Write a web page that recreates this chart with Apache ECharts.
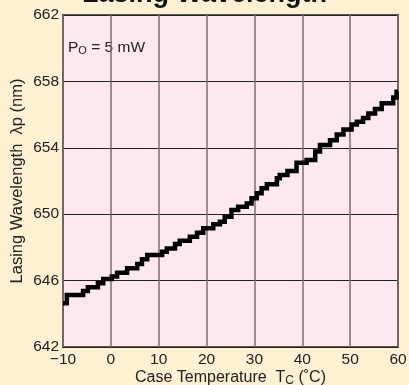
<!DOCTYPE html>
<html><head><meta charset="utf-8">
<script src="https://cdn.jsdelivr.net/npm/echarts@6/dist/echarts.min.js"></script>
<style>html,body{margin:0;padding:0;background:#fdf0d3;}#c{width:409px;height:385px;}</style>
</head><body><div id="c"></div>
<script>
// Step start temperatures (°C) and wavelengths (nm)
var temps = [-10, -9.2, -5.8, -4.8, -2.7, -1.6, 0.2, 1.3, 3.4, 5.5, 6.5, 7.6, 10.7, 11.7, 13.4, 14.4, 16.5, 18.0, 19.3, 21.4, 22.8, 23.8, 25.2, 26.6, 28.4, 29.4, 30.5, 31.5, 32.6, 34.7, 35.3, 36.9, 38.8, 40.9, 42.7, 43.7, 45.8, 47.2, 48.6, 50.3, 51.4, 52.7, 53.8, 55.2, 56.6, 59.0, 59.7, 60];
var waves = [644.63, 645.13, 645.37, 645.6, 645.84, 646.1, 646.24, 646.48, 646.74, 647.0, 647.28, 647.54, 647.74, 647.94, 648.2, 648.4, 648.64, 648.88, 649.15, 649.4, 649.55, 649.85, 650.25, 650.45, 650.65, 650.96, 651.26, 651.56, 651.8, 652.16, 652.36, 652.6, 653.1, 653.27, 653.77, 654.17, 654.45, 654.8, 655.1, 655.4, 655.57, 655.8, 656.06, 656.33, 656.68, 657.03, 657.38, 657.38];
var xTicks = [-10, 0, 10, 20, 30, 40, 50, 60];
var yTicks = [642, 646, 650, 654, 658, 662];

var chart = echarts.init(document.getElementById('c'));
var data = temps.map(function (t, i) { return [t, waves[i]]; });
chart.setOption({
  backgroundColor: '#fdf0d3',
  animation: false,
  textStyle: { fontFamily: 'Liberation Sans, Arial, sans-serif' },
  title: {
    text: 'Lasing Wavelength', left: 'center', top: -24,
    textStyle: { fontSize: 27, fontWeight: 'bold', color: '#111', fontFamily: 'Liberation Sans' }
  },
  grid: { left: 63, right: 11, top: 15, bottom: 38, outerBoundsMode: 'none', containLabel: false, show: true, backgroundColor: '#fde8f0', borderColor: '#555', borderWidth: 2 },
  xAxis: {
    type: 'value', min: -10, max: 60, interval: 10,
    axisLine: { show: false }, axisTick: { show: false },
    splitLine: { show: true, lineStyle: { color: '#7a6e72', width: 1.5 } },
    axisLabel: { color: '#222', fontSize: 15.5, margin: 5, formatter: function (v) { return xTicks.indexOf(v) >= 0 ? String(v).replace('-', '\u2212') : ''; } },
    name: '{a|Case Temperature  T}{s|C}{a| (\u02DAC)}', nameLocation: 'middle', nameGap: 21, nameMoveOverlap: false,
    nameTextStyle: { rich: { a: { fontSize: 16, color: '#222' }, s: { fontSize: 12, color: '#222', verticalAlign: 'bottom', padding: [7, 0, 0, 0] } } }
  },
  yAxis: {
    type: 'value', min: 642, max: 662, interval: 4,
    axisLine: { show: false },
    axisTick: { show: true, length: 4, lineStyle: { color: '#333' } },
    splitLine: { show: true, lineStyle: { color: '#222', width: 1 } },
    axisLabel: { color: '#222', fontSize: 15.5, margin: 4, formatter: function (v) { return yTicks.indexOf(v) >= 0 ? String(v) : ''; } },
    name: 'Lasing Wavelength  \u03BBp (nm)', nameLocation: 'middle', nameGap: 37, nameMoveOverlap: false,
    nameTextStyle: { fontSize: 16.5, color: '#222' }
  },
  graphic: [{
    type: 'text', left: 68, top: 40,
    style: { text: '{a|P}{s|O}{a| = 5 mW}', rich: { a: { fontSize: 15.5, fill: '#222' }, s: { fontSize: 11, fill: '#222', padding: [6, 0, 0, 0] } } }
  }],
  series: [{
    type: 'line', data: data, step: 'end', showSymbol: false,
    lineStyle: { color: '#000', width: 4.5, join: 'miter' }
  }]
});
</script></body></html>
